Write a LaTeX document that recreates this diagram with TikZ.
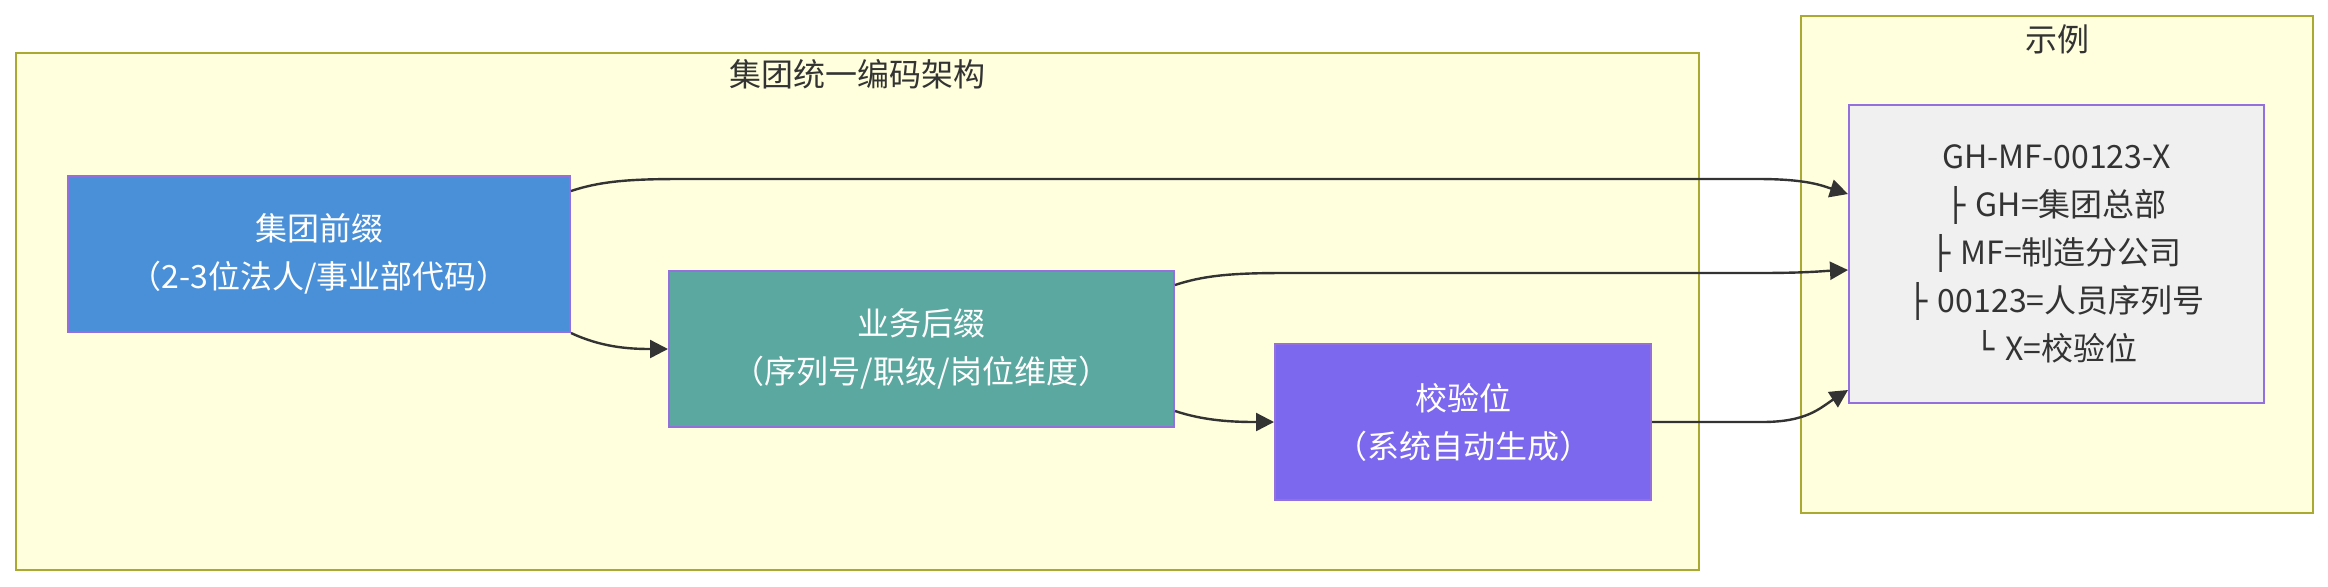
\documentclass[tikz,border=0pt]{standalone}
\usepackage{fontspec}
\setmainfont{Noto Sans CJK SC}
\newfontfamily\boxfont{DejaVu Sans}
\usetikzlibrary{arrows.meta,calc}
\definecolor{cgedge}{HTML}{AAAA33}
\definecolor{cgfill}{HTML}{FFFFDE}
\definecolor{cgline}{HTML}{9370DB}
\definecolor{cgpre}{HTML}{4A90D9}
\definecolor{cgsuf}{HTML}{5BA8A0}
\definecolor{cgchk}{HTML}{7B68EE}
\definecolor{cgex}{HTML}{F0F0F0}
\definecolor{cgink}{HTML}{333333}
\tikzset{
  cgbox/.style={
    draw=cgline, line width=1pt, align=center, anchor=north west,
    inner sep=0pt, font=\fontsize{16}{24}\selectfont, text=white,
    minimum height=78pt
  },
  pre/.style={cgbox, fill=cgpre},
  suf/.style={cgbox, fill=cgsuf},
  chk/.style={cgbox, fill=cgchk},
  ex/.style={cgbox, fill=cgex, text=cgink},
  grp/.style={draw=cgedge, fill=cgfill, line width=1.2pt, anchor=north west, inner sep=0pt},
  grplbl/.style={font=\fontsize{16}{24}\selectfont, text=cgink, inner sep=0pt},
  arr/.style={-{Triangle[length=9pt,width=9pt]}, draw=cgink, line width=1.2pt}
}

\begin{document}
\begin{tikzpicture}[x=0.5pt, y=-0.5pt]
  \useasboundingbox (0,0) rectangle (2328,586);

  % groups
  \node[grp, minimum width=841.5pt, minimum height=258.5pt] (arch) at (15,52) {};
  \node[grplbl] (archlbl) at ($(arch.north)+(0,22)$) {集团统一编码架构};
  \node[grp, minimum width=256pt, minimum height=248.5pt] (demo) at (1800,15) {};
  \node[grplbl] (demolbl) at ($(demo.north)+(0,24)$) {示例};

  % code parts
  \node[pre, minimum width=251pt] (pre) at (67,175) {集团前缀\\（2-3位法人/事业部代码）};
  \node[suf, minimum width=252.5pt] (suf) at (668,270) {业务后缀\\（序列号/职级/岗位维度）};
  \node[chk, minimum width=188pt] (chk) at (1274,343) {校验位\\（系统自动生成）};
  \node[ex, minimum width=207.5pt, minimum height=149pt] (ex) at (1848,104)
    {GH-MF-00123-X\\{\boxfont ├ }GH=集团总部\\{\boxfont ├ }MF=制造分公司\\{\boxfont ├ }00123=人员序列号\\{\boxfont └ }X=校验位};

  \draw[arr] (pre.south east) .. controls +(30,14) and +(-40,0) .. (suf.west);
  \draw[arr] ($(suf.south east)+(0,-17)$) .. controls +(30,10) and +(-40,0) .. (chk.west);
  \draw[arr] ($(pre.north east)+(0,16)$) .. controls +(30,-10) and +(-50,0) .. ++(110,-12)
    -- ($(ex.north west)+(-90,75)$) .. controls +(50,0) and +(-25,-8) .. ($(ex.north west)+(0,90)$);
  \draw[arr] ($(suf.north east)+(0,15)$) .. controls +(30,-10) and +(-50,0) .. ++(110,-12)
    -- ($(ex.north west)+(-90,169)$) .. controls +(50,0) and +(-25,1) .. ($(ex.north west)+(0,166)$);
  \draw[arr] (chk.east) -- ++(110,0) .. controls +(45,0) and +(-28,18) .. ($(ex.south west)+(0,-14)$);
\end{tikzpicture}
\end{document}
